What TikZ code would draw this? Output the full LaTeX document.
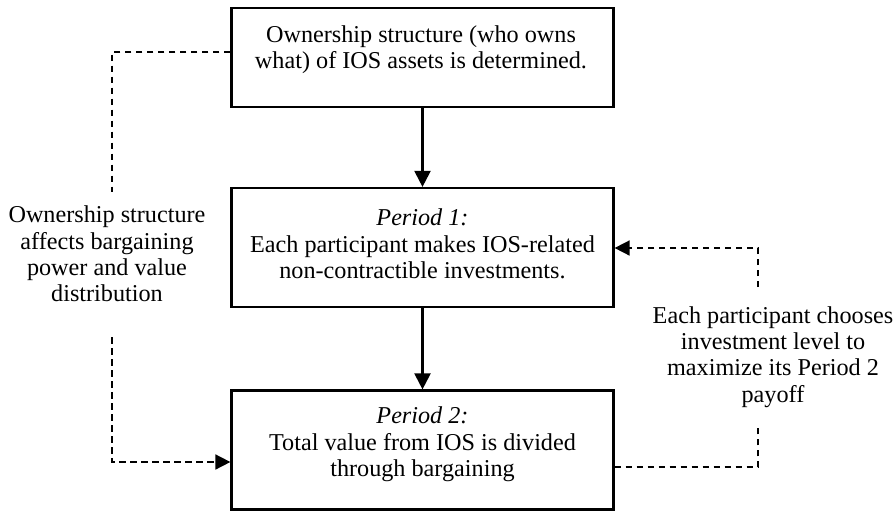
\documentclass[tikz,border=0pt]{standalone}
\usepackage{fontspec}
\setmainfont{Liberation Serif}
\usetikzlibrary{arrows.meta}
\begin{document}
\begin{tikzpicture}[x=1pt,y=-1pt,
  box/.style={draw, line width=2.2pt, rectangle, minimum width=382pt, inner sep=0pt},
  txt/.style={align=center, inner sep=0pt, font=\fontsize{24.2}{26.3}\selectfont},
  flow/.style={line width=2.2pt, -{Triangle[length=16pt,width=16pt]}},
  dashline/.style={line width=1.6pt, dash pattern=on 6.5pt off 4.5pt},
  dasharrow/.style={dashline, -{Triangle[length=15pt,width=15pt]}}]
\useasboundingbox (0,0) rectangle (895,512);
% boxes
\node[box, minimum height=99pt] (b1) at (422.5,57.5) {};
\node[box, minimum height=119pt] (b2) at (422.5,247.5) {};
\node[box, minimum height=119pt] (b3) at (422.5,450) {};
% box texts
\node[txt] (t1) at (421,49.5) {Ownership structure (who owns\\what) of IOS assets is determined.};
\node[txt] (t2) at (422.5,244) {\textit{Period 1:}\\Each participant makes IOS-related\\non-contractible investments.};
\node[txt] (t3) at (422.5,444.5) {\textit{Period 2:}\\Total value from IOS is divided\\through bargaining};
% side texts
\node[txt] (tl) at (107,254) {Ownership structure\\affects bargaining\\power and value\\distribution};
\node[txt] (tr) at (773,357) {Each participant chooses\\investment level to\\maximize its Period 2\\payoff};
% solid arrows
\draw[flow] (b1.south) -- (b2.north);
\draw[flow] (b2.south) -- (b3.north);
% left dashed connector
\coordinate (la) at (112,52);
\coordinate (lb) at (112,192);
\coordinate (lc) at (112,337);
\coordinate (ld) at (112,462);
\draw[dashline] (b1.west |- la) -- (la) -- (lb);
\draw[dasharrow] (lc) -- (ld) -- (b3.west |- ld);
% right dashed connector
\coordinate (ra) at (758,287);
\coordinate (rb) at (758,248);
\coordinate (rc) at (758,428);
\coordinate (rd) at (758,467);
\draw[dasharrow] (ra) -- (rb) -- (b2.east |- rb);
\draw[dashline] (b3.east |- rd) -- (rd) -- (rc);
\end{tikzpicture}
\end{document}
